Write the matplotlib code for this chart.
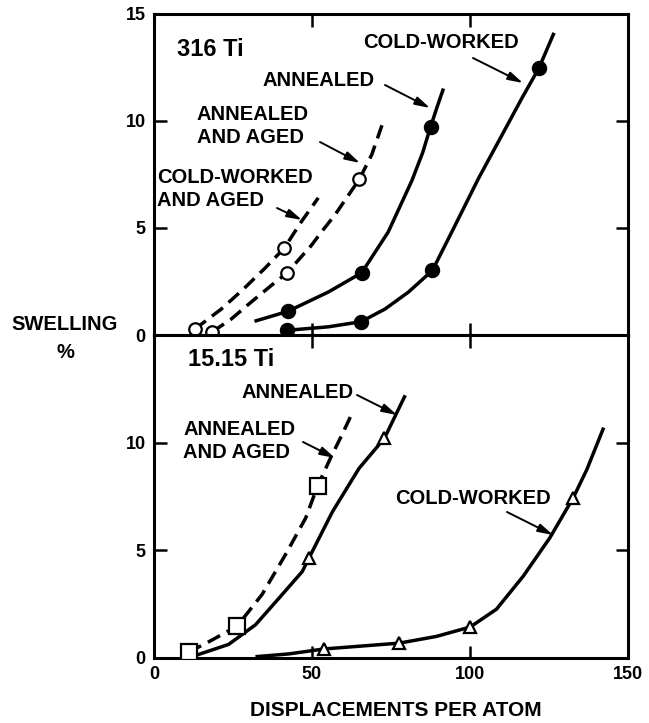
import matplotlib.pyplot as plt

plt.rcParams['font.family'] = ['Liberation Sans', 'DejaVu Sans']
plt.rcParams['font.weight'] = 'bold'

# 316 Ti (upper panel)
t_cw_x = [42.2, 65.5, 88.1, 121.8]
t_cw_y = [0.25, 0.62, 3.01, 12.45]
t_cw_line_x = [40.8, 42.2, 55.1, 65.5, 73.1, 80.5, 88.1, 95.3, 102.7, 110.2, 116.5, 121.8, 126.6]
t_cw_line_y = [0.19, 0.22, 0.38, 0.62, 1.21, 2.0, 3.01, 5.12, 7.31, 9.35, 11.07, 12.45, 14.1]

t_an_x = [42.3, 65.7, 87.5]
t_an_y = [1.1, 2.9, 9.7]
t_an_line_x = [31.8, 42.3, 55.1, 65.7, 74.1, 81.6, 85.0, 87.5, 89.5, 91.6]
t_an_line_y = [0.64, 1.1, 2.0, 2.9, 4.8, 7.2, 8.5, 9.7, 10.6, 11.5]

t_anag_x = [18.5, 42.1, 65.0]
t_anag_y = [0.15, 2.9, 7.27]
t_anag_line_x = [18.5, 24.4, 30.7, 37.1, 42.1, 49.8, 53.0, 57.2, 65.0, 68.9, 72.6]
t_anag_line_y = [0.15, 0.74, 1.53, 2.31, 2.9, 4.18, 4.81, 5.59, 7.27, 8.41, 9.98]

t_cwag_x = [12.9, 41.2]
t_cwag_y = [0.27, 4.05]
t_cwag_line_x = [12.9, 21.2, 28.0, 35.0, 41.2, 46.6, 52.0]
t_cwag_line_y = [0.27, 1.2, 2.1, 3.1, 4.05, 5.28, 6.4]

# 15.15 Ti (lower panel)
b_anag_x = [11.0, 26.3, 51.8]
b_anag_y = [0.27, 1.48, 8.0]
b_anag_line_x = [11.0, 18.3, 26.3, 34.2, 41.6, 48.0, 51.8, 55.9, 59.6, 62.8]
b_anag_line_y = [0.27, 0.83, 1.48, 2.95, 4.8, 6.5, 8.0, 9.3, 10.4, 11.4]

b_an_x = [49.0, 72.9]
b_an_y = [4.63, 10.2]
b_an_line_x = [13.0, 23.6, 32.1, 39.5, 46.9, 49.0, 56.5, 64.9, 72.9, 79.5]
b_an_line_y = [0.11, 0.63, 1.54, 2.77, 4.01, 4.63, 6.8, 8.81, 10.2, 12.2]

b_cw_x = [53.8, 77.6, 100.1, 132.7]
b_cw_y = [0.42, 0.69, 1.44, 7.45]
b_cw_line_x = [32.1, 42.7, 53.8, 77.6, 89.3, 100.1, 108.4, 116.9, 125.3, 132.7, 137.0, 142.3]
b_cw_line_y = [0.06, 0.19, 0.42, 0.69, 1.0, 1.44, 2.27, 3.81, 5.59, 7.45, 8.76, 10.7]

x_ticks = [0, 50, 100, 150]
y_ticks = [0, 5, 10, 15]

W, H = 649, 723
fig = plt.figure(figsize=(W / 100, H / 100), dpi=100)
ax_top = fig.add_axes([154 / W, 1 - 335 / H, 474 / W, 321.5 / H])
ax_bot = fig.add_axes([154 / W, 1 - 658 / H, 474 / W, 323 / H])

LW = 2.5
DASH = (0, (4, 2.2))


def style_axes(ax, show_x, ylabels):
    ax.set_xlim(0, 150)
    ax.set_ylim(0, 15)
    for sp in ax.spines.values():
        sp.set_linewidth(2.2)
    ax.set_xticks(x_ticks)
    ax.set_yticks(y_ticks)
    ax.set_yticklabels(ylabels)
    if not show_x:
        ax.set_xticklabels([])
    ax.tick_params(direction='in', length=9, width=1.8, top=True, right=True,
                   labelsize=13, pad=6)


def curve(ax, lx, ly, px, py, marker, ms, dashed=False, filled=False):
    ax.plot(lx, ly, color='black', lw=LW, solid_capstyle='butt',
            solid_joinstyle='round', linestyle=DASH if dashed else '-', zorder=2)
    ax.plot(px, py, linestyle='none', marker=marker, ms=ms, mew=1.6,
            mec='black', mfc='black' if filled else 'white', zorder=3)


style_axes(ax_top, False, ['0', '5', '10', '15'])
style_axes(ax_bot, True, ['0', '5', '10', ''])

curve(ax_top, t_cw_line_x, t_cw_line_y, t_cw_x, t_cw_y, 'o', 9.5, filled=True)
curve(ax_top, t_an_line_x, t_an_line_y, t_an_x, t_an_y, 'o', 9.5, filled=True)
curve(ax_top, t_anag_line_x, t_anag_line_y, t_anag_x, t_anag_y, 'o', 9, dashed=True)
curve(ax_top, t_cwag_line_x, t_cwag_line_y, t_cwag_x, t_cwag_y, 'o', 9, dashed=True)

curve(ax_bot, b_anag_line_x, b_anag_line_y, b_anag_x, b_anag_y, 's', 11, dashed=True)
curve(ax_bot, b_an_line_x, b_an_line_y, b_an_x, b_an_y, '^', 9)
curve(ax_bot, b_cw_line_x, b_cw_line_y, b_cw_x, b_cw_y, '^', 9)


def label(text, x, y, ha='center', size=14.5, spacing=1.3):
    fig.text(x / W, 1 - y / H, text, ha=ha, va='center', fontsize=size,
             fontweight='bold', linespacing=spacing)


def arrow(x0, y0, x1, y1):
    fig.add_artist(plt.Annotation(
        '', xy=(x1, H - y1), xytext=(x0, H - y0),
        xycoords='figure pixels', textcoords='figure pixels',
        arrowprops=dict(arrowstyle='-|>,head_length=0.9,head_width=0.25',
                        color='black', lw=1.4, shrinkA=0, shrinkB=0)))


# upper panel labels
label('316 Ti', 176.7, 50, ha='left', size=17)
label('COLD-WORKED', 441, 42)
arrow(473, 58, 523, 83)
label('ANNEALED', 319, 80)
arrow(385, 85, 430, 108)
label('ANNEALED\nAND AGED', 196.7, 126, ha='left')
arrow(320, 142, 360, 163)
label('COLD-WORKED\nAND AGED', 157.3, 189, ha='left')
arrow(277, 208, 302, 220)

# lower panel labels
label('15.15 Ti', 188.3, 360, ha='left', size=17)
label('ANNEALED', 297.5, 392)
arrow(357, 395, 397, 415)
label('ANNEALED\nAND AGED', 183.3, 441, ha='left')
arrow(303, 442, 335, 458)
label('COLD-WORKED', 472.5, 498)
arrow(507, 512, 553, 535)

label('SWELLING\n%', 65, 339, size=14.5, spacing=1.6)
label('DISPLACEMENTS PER ATOM', 396, 710, size=15)

fig.savefig('out.png', dpi=100)
